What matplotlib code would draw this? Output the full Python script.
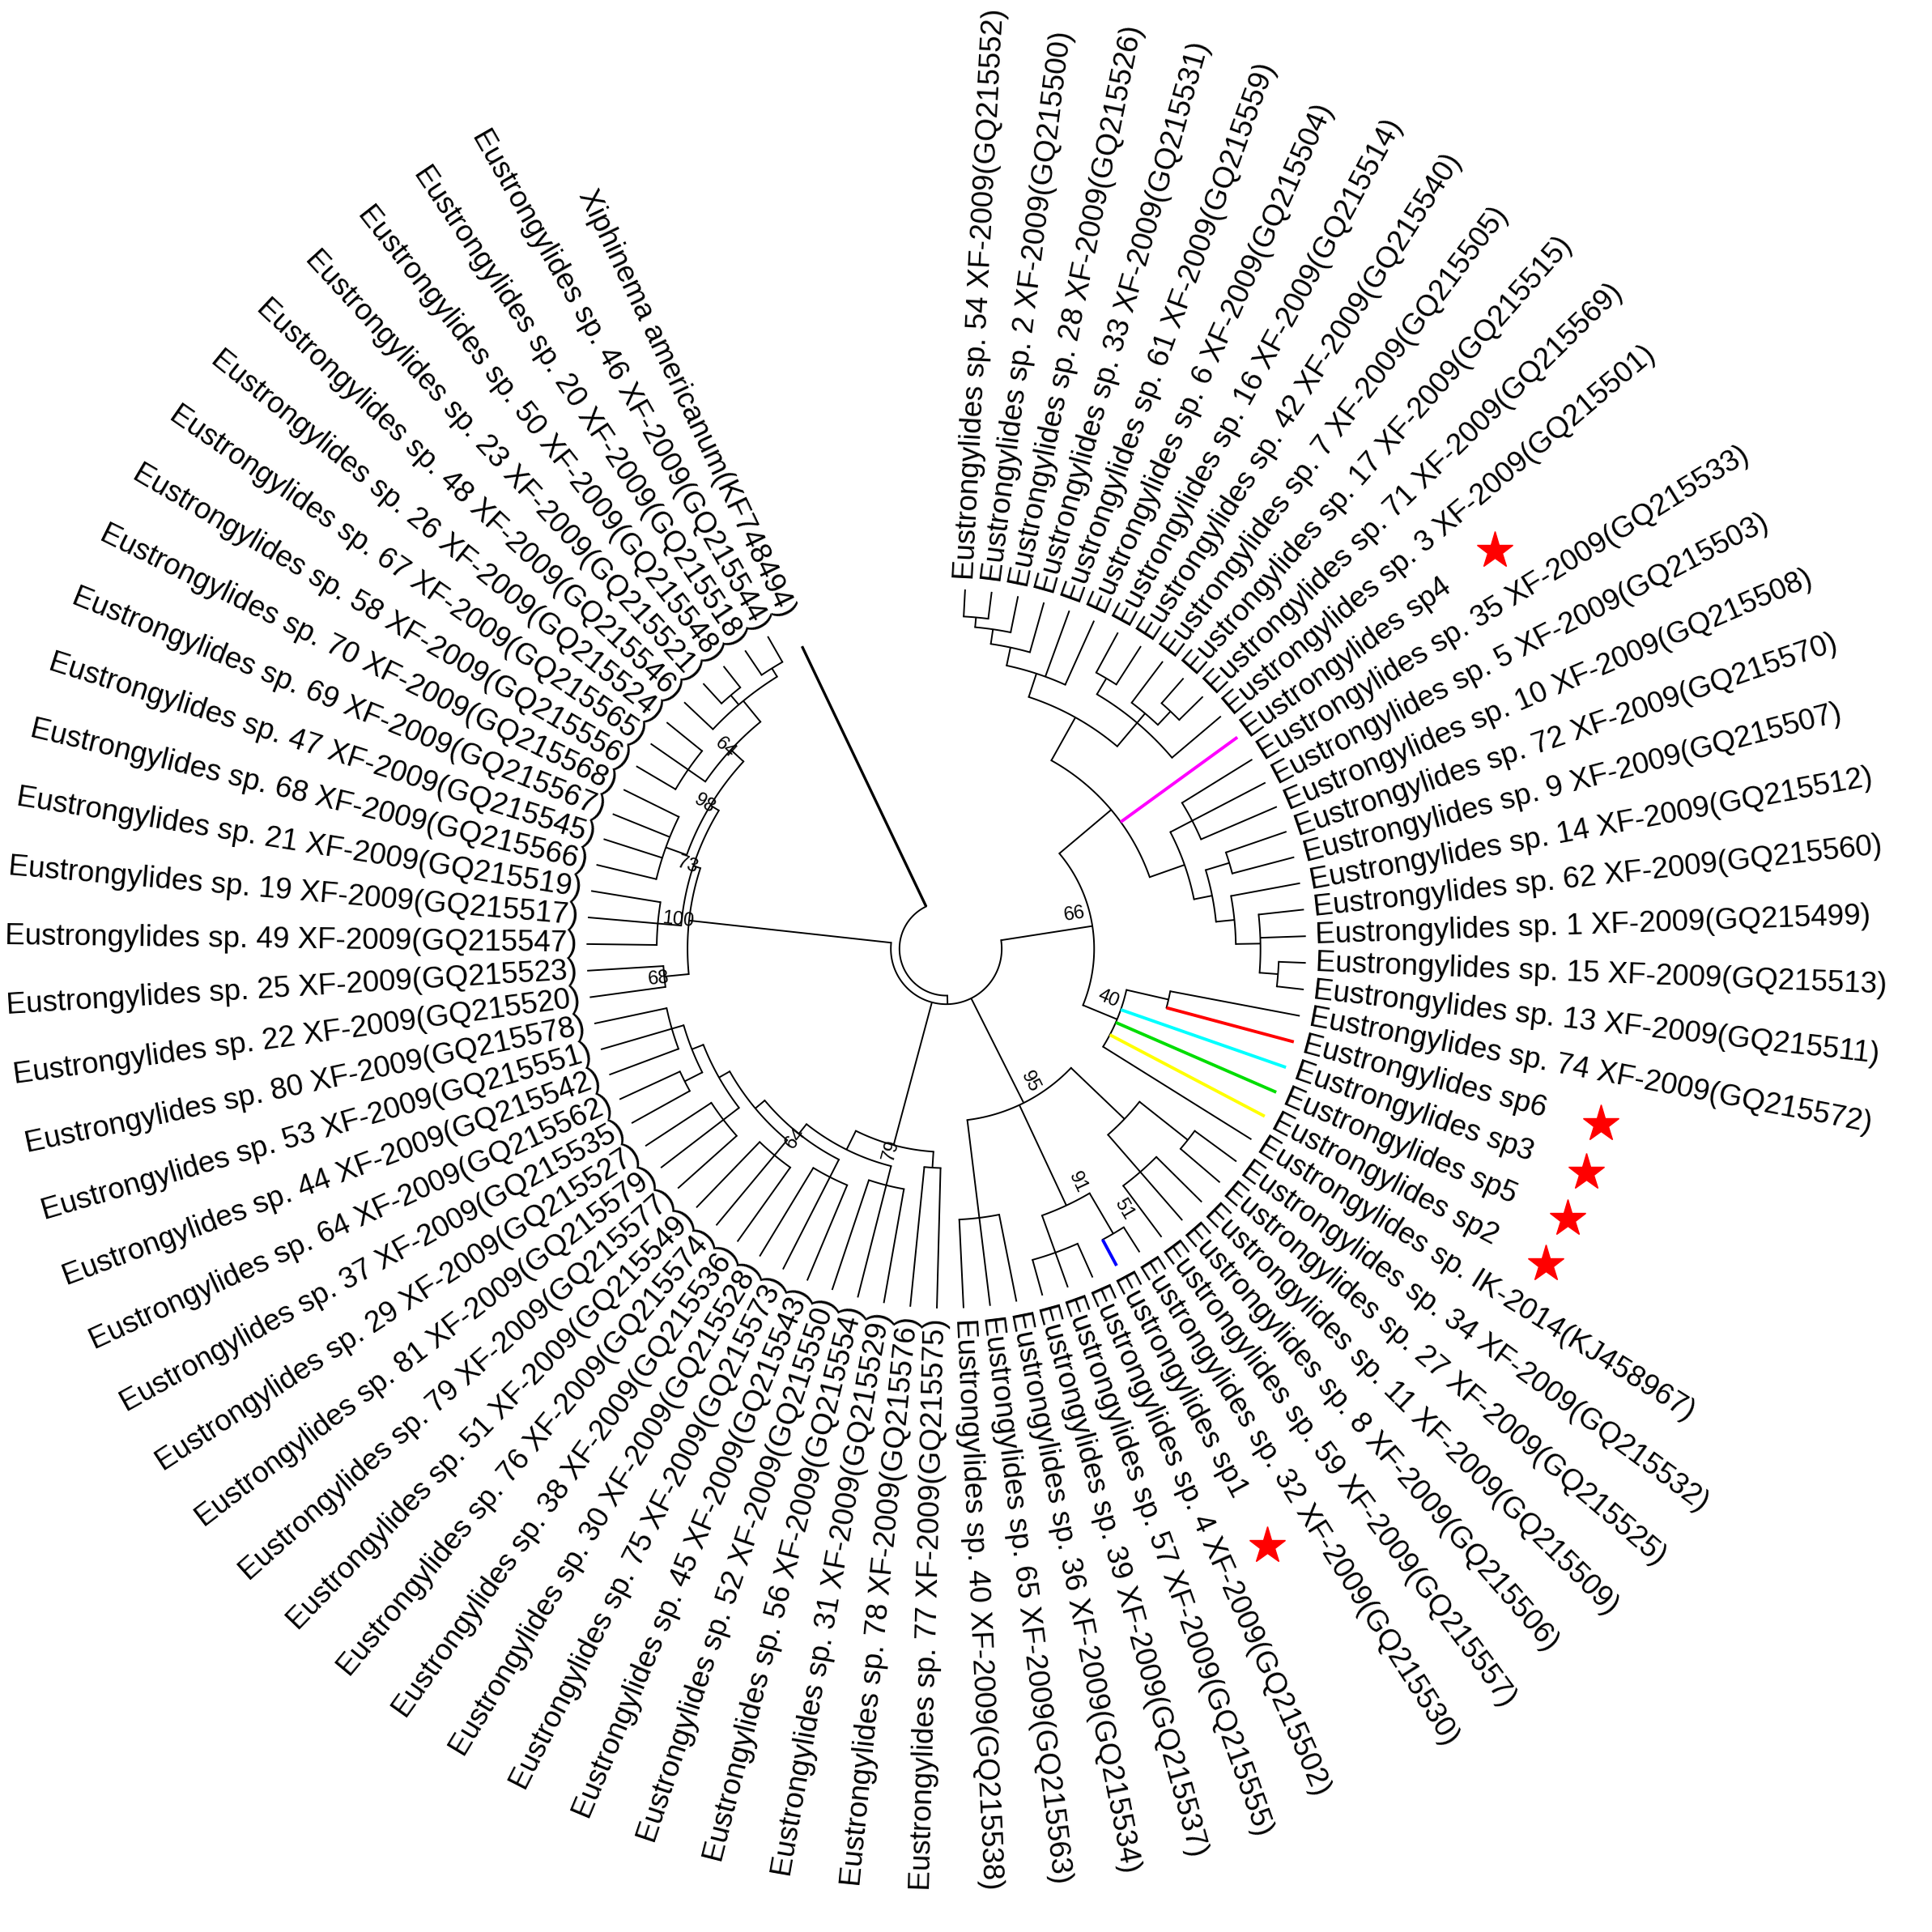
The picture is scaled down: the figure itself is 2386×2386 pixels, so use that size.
import numpy as np
import matplotlib
matplotlib.use("Agg")
import matplotlib.pyplot as plt

plt.rcParams['font.family'] = ['Liberation Sans', 'DejaVu Sans']

leaf_names = [
 "Eustrongylides sp. 54 XF-2009(GQ215552)", "Eustrongylides sp. 2 XF-2009(GQ215500)",
 "Eustrongylides sp. 28 XF-2009(GQ215526)", "Eustrongylides sp. 33 XF-2009(GQ215531)",
 "Eustrongylides sp. 61 XF-2009(GQ215559)", "Eustrongylides sp. 6 XF-2009(GQ215504)",
 "Eustrongylides sp. 16 XF-2009(GQ215514)", "Eustrongylides sp. 42 XF-2009(GQ215540)",
 "Eustrongylides sp. 7 XF-2009(GQ215505)", "Eustrongylides sp. 17 XF-2009(GQ215515)",
 "Eustrongylides sp. 71 XF-2009(GQ215569)", "Eustrongylides sp. 3 XF-2009(GQ215501)",
 "Eustrongylides sp4", "Eustrongylides sp. 35 XF-2009(GQ215533)",
 "Eustrongylides sp. 5 XF-2009(GQ215503)", "Eustrongylides sp. 10 XF-2009(GQ215508)",
 "Eustrongylides sp. 72 XF-2009(GQ215570)", "Eustrongylides sp. 9 XF-2009(GQ215507)",
 "Eustrongylides sp. 14 XF-2009(GQ215512)", "Eustrongylides sp. 62 XF-2009(GQ215560)",
 "Eustrongylides sp. 1 XF-2009(GQ215499)", "Eustrongylides sp. 15 XF-2009(GQ215513)",
 "Eustrongylides sp. 13 XF-2009(GQ215511)", "Eustrongylides sp. 74 XF-2009(GQ215572)",
 "Eustrongylides sp6", "Eustrongylides sp3", "Eustrongylides sp5", "Eustrongylides sp2",
 "Eustrongylides sp. IK-2014(KJ458967)", "Eustrongylides sp. 34 XF-2009(GQ215532)",
 "Eustrongylides sp. 27 XF-2009(GQ215525)", "Eustrongylides sp. 11 XF-2009(GQ215509)",
 "Eustrongylides sp. 8 XF-2009(GQ215506)", "Eustrongylides sp. 59 XF-2009(GQ215557)",
 "Eustrongylides sp. 32 XF-2009(GQ215530)", "Eustrongylides sp1",
 "Eustrongylides sp. 4 XF-2009(GQ215502)", "Eustrongylides sp. 57 XF-2009(GQ215555)",
 "Eustrongylides sp. 39 XF-2009(GQ215537)", "Eustrongylides sp. 36 XF-2009(GQ215534)",
 "Eustrongylides sp. 65 XF-2009(GQ215563)", "Eustrongylides sp. 40 XF-2009(GQ215538)",
 "Eustrongylides sp. 77 XF-2009(GQ215575)", "Eustrongylides sp. 78 XF-2009(GQ215576)",
 "Eustrongylides sp. 31 XF-2009(GQ215529)", "Eustrongylides sp. 56 XF-2009(GQ215554)",
 "Eustrongylides sp. 52 XF-2009(GQ215550)", "Eustrongylides sp. 45 XF-2009(GQ215543)",
 "Eustrongylides sp. 75 XF-2009(GQ215573)", "Eustrongylides sp. 30 XF-2009(GQ215528)",
 "Eustrongylides sp. 38 XF-2009(GQ215536)", "Eustrongylides sp. 76 XF-2009(GQ215574)",
 "Eustrongylides sp. 51 XF-2009(GQ215549)", "Eustrongylides sp. 79 XF-2009(GQ215577)",
 "Eustrongylides sp. 81 XF-2009(GQ215579)", "Eustrongylides sp. 29 XF-2009(GQ215527)",
 "Eustrongylides sp. 37 XF-2009(GQ215535)", "Eustrongylides sp. 64 XF-2009(GQ215562)",
 "Eustrongylides sp. 44 XF-2009(GQ215542)", "Eustrongylides sp. 53 XF-2009(GQ215551)",
 "Eustrongylides sp. 80 XF-2009(GQ215578)", "Eustrongylides sp. 22 XF-2009(GQ215520)",
 "Eustrongylides sp. 25 XF-2009(GQ215523)", "Eustrongylides sp. 49 XF-2009(GQ215547)",
 "Eustrongylides sp. 19 XF-2009(GQ215517)", "Eustrongylides sp. 21 XF-2009(GQ215519)",
 "Eustrongylides sp. 68 XF-2009(GQ215566)", "Eustrongylides sp. 47 XF-2009(GQ215545)",
 "Eustrongylides sp. 69 XF-2009(GQ215567)", "Eustrongylides sp. 70 XF-2009(GQ215568)",
 "Eustrongylides sp. 58 XF-2009(GQ215556)", "Eustrongylides sp. 67 XF-2009(GQ215565)",
 "Eustrongylides sp. 26 XF-2009(GQ215524)", "Eustrongylides sp. 48 XF-2009(GQ215546)",
 "Eustrongylides sp. 23 XF-2009(GQ215521)", "Eustrongylides sp. 50 XF-2009(GQ215548)",
 "Eustrongylides sp. 20 XF-2009(GQ215518)", "Eustrongylides sp. 46 XF-2009(GQ215544)",
 "Xiphinema americanum(KF748494)",
]
star_leaves = [12, 24, 25, 26, 27, 35]
colored_leaves = [12, 24, 25, 26, 27, 35]
colored_leaf_colors = ["#ff00ff", "red", "cyan", "#00dd00", "#ffff00", "blue"]

# tree: (radius, bootstrap, [children]); leaves are indices into leaf_names
T_top = (215, None, [(235, None, [(250, None, [(262, None, [(270, None, [0, 1]), 2]), 3]), 4, 5]),
                    (240, None, [(255, None, [6, 7]), (250, None, [8, (265, None, [9, 10])]), 11])])
T_mid = (205, None, [(225, None, [13, 14, 15]),
                     (220, None, [(240, None, [16, 17]), (235, None, [18, (255, None, [19, 20, (270, None, [21, 22])])])])])
C = (120, "66", [(175, None, [T_top, 12, T_mid]),
                 (150, "40", [(185, None, [23, 24]), 25, 26, 27, 28])])
D = (140, "95", [(200, None, [(250, None, [29, 30]), (240, None, [31, 32, 33])]),
                 (230, "91", [(268, "51", [34, 35]), (262, None, [36, 37, 38])]),
                 (220, None, [39, 40, 41])])
B = (165, "79", [(178, None, [42, 43]),
                 (182, None, [(198, None, [44, 45, 46]),
                              (192, "64", [(208, None, [47, 48, 49]),
                                           (202, None, [(218, None, [50, 51, 52]),
                                                        (212, None, [(228, None, [53, 54, 55]),
                                                                     (222, None, [(238, None, [56, 57]), (232, None, [58, 59, 60])])])])])])])
A = (210, "100", [(230, "68", [61, 62]),
                  (216, "73", [(235, None, [63, 64, 65]),
                               (224, "98", [(242, None, [66, 67, 68, 69]),
                                            (238, "64", [(255, None, [70, 71, 72]),
                                                         (260, None, [73, (270, None, [74, 75]), (268, None, [76, 77])])])])])])
TREE = (38, None, [(45, None, [C, D, B, A]), 78])

CX, CY = 768, 770
A0, STEP = 87.0, 4.25
TIP_R, LAB_R, STAR_R = 292, 300, 550

fig = plt.figure(figsize=(23.86, 23.86), dpi=100)
ax = fig.add_axes([0, 0, 1, 1])
ax.set_xlim(0, 1568)
ax.set_ylim(1568, 0)
ax.axis('off')

def pt(r, a):
    t = np.radians(a)
    return CX + r * np.cos(t), CY - r * np.sin(t)

def leaf_angle(i):
    return A0 - i * STEP

def angle(node):
    if isinstance(node, int):
        return leaf_angle(node)
    ch = node[2]
    return (angle(ch[0]) + angle(ch[-1])) / 2

def radial(r0, r1, a, color='black', lw=1.4):
    x0, y0 = pt(r0, a); x1, y1 = pt(r1, a)
    ax.plot([x0, x1], [y0, y1], color=color, lw=lw, solid_capstyle='butt')

def arc(r, a0, a1, color='black', lw=1.4):
    t = np.linspace(a0, a1, 100)
    x, y = pt(r, t)
    ax.plot(x, y, color=color, lw=lw)

lc = dict(zip(colored_leaves, colored_leaf_colors))

def draw(node, parent_r):
    if isinstance(node, int):
        a = leaf_angle(node)
        c = lc.get(node, 'black')
        if node == 78:
            radial(parent_r, TIP_R - 20, a, lw=2.4)
        else:
            radial(parent_r, TIP_R, a, color=c, lw=2.8 if c != 'black' else 1.4)
        return
    r, boot, ch = node
    a = angle(node)
    if parent_r is not None:
        radial(parent_r, r, a)
    arc(r, angle(ch[0]), angle(ch[-1]))
    if boot:
        x, y = pt(r - 4, a + 2.2)
        ax.text(x, y, boot, fontsize=17, rotation=a if -90 <= a <= 90 else a + 180,
                ha='right', va='bottom', rotation_mode='anchor')
    for c in ch:
        draw(c, r)

draw(TREE, None)

for i, name in enumerate(leaf_names):
    a = leaf_angle(i)
    an = (a + 360) % 360
    x, y = pt(LAB_R, a)
    if 90 < an < 270:
        ax.text(x, y, name, fontsize=26.5, rotation=an - 180, ha='right', va='center',
                rotation_mode='anchor')
    else:
        ax.text(x, y, name, fontsize=26.5, rotation=an if an <= 90 else an - 360, ha='left',
                va='center', rotation_mode='anchor')

for i in star_leaves:
    x, y = pt(STAR_R, leaf_angle(i))
    ax.plot(x, y, marker='*', color='red', markersize=34, markeredgecolor='red')

fig.savefig("out.png", dpi=100, facecolor='white')
